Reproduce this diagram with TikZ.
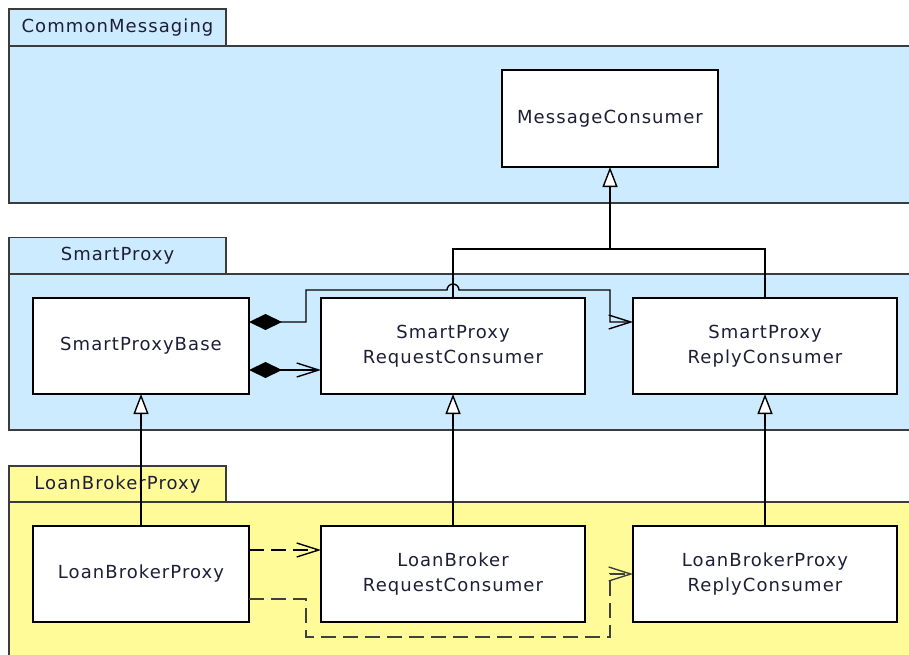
\documentclass[tikz,border=0pt]{standalone}
\usepackage{fontspec}
\setmainfont{DejaVu Sans}[LetterSpace=6]
\usetikzlibrary{arrows.meta}
\definecolor{pkgblue}{RGB}{204,235,255}
\definecolor{pkgyellow}{RGB}{255,251,153}
\definecolor{txtc}{RGB}{30,30,55}
\definecolor{pkgline}{RGB}{60,60,60}
\begin{document}
\begin{tikzpicture}[x=1pt,y=-1pt,
  lbl/.style={font=\fontsize{18}{25.5}\selectfont,text=txtc},
  cls/.style={lbl,draw=black,line width=1.6pt,fill=white,inner sep=0pt,outer sep=0pt,align=center},
  pkgtab/.style={lbl,draw=pkgline,line width=1.6pt,inner sep=0pt,outer sep=0pt,minimum width=217pt,minimum height=37pt},
  pkgbody/.style={draw=pkgline,line width=1.6pt},
  conn/.style={line width=1.4pt,black},
  gen/.style={conn,-{Triangle[open,length=20pt,width=15pt,fill=white]}},
  comp/.style={conn,{Diamond[length=33pt,width=16pt]}-{Straight Barb[length=22pt,width=14pt]}},
  dep/.style={conn,dash pattern=on 15pt off 7pt,-{Straight Barb[length=22pt,width=14pt]}}]
\useasboundingbox (0,0) rectangle (909,655);
\clip (0,0) rectangle (909,655);
% packages
\node[pkgtab,fill=pkgblue] (tabCM) at (117.5,27.5) {CommonMessaging};
\draw[pkgbody,fill=pkgblue] (9,46) rectangle (940,203);
\node[pkgtab,fill=pkgblue] (tabSP) at (117.5,256) {SmartProxy};
\draw[pkgbody,fill=pkgblue] (9,274) rectangle (940,430);
\node[pkgtab,fill=pkgyellow] (tabLB) at (117.5,484.5) {LoanBrokerProxy};
\draw[pkgbody,fill=pkgyellow] (9,502) rectangle (940,700);
% classes
\node[cls,minimum width=216pt,minimum height=97pt] (MC) at (610,118.5) {MessageConsumer};
\node[cls,minimum width=216pt,minimum height=96pt] (SPB) at (141,346) {SmartProxyBase};
\node[cls,minimum width=264pt,minimum height=96pt] (SPRC) at (453,346) {SmartProxy\\RequestConsumer};
\node[cls,minimum width=264pt,minimum height=96pt] (SPRepC) at (765,346) {SmartProxy\\ReplyConsumer};
\node[cls,minimum width=216pt,minimum height=96pt] (LBP) at (141,574) {LoanBrokerProxy};
\node[cls,minimum width=264pt,minimum height=96pt] (LBRC) at (453,574) {LoanBroker\\RequestConsumer};
\node[cls,minimum width=264pt,minimum height=96pt] (LBPRC) at (765,574) {LoanBrokerProxy\\ReplyConsumer};
% generalization to MessageConsumer
\coordinate (j) at (610,249);
\draw[conn] (SPRC.north) |- (j);
\draw[conn] (SPRepC.north) |- (j);
\draw[gen] (j) -- (MC.south);
% compositions
\draw[comp] ([yshift=24pt]SPB.east) -| (306,290) -- (447,290) arc[start angle=180,end angle=0,radius=6pt] -- (610,290) |- ([yshift=24pt]SPRepC.west);
\draw[comp] ([yshift=-24pt]SPB.east) -- ([yshift=-24pt]SPRC.west);
% generalizations
\draw[gen] (LBP.north) -- (SPB.south);
\draw[gen] (LBRC.north) -- (SPRC.south);
\draw[gen] (LBPRC.north) -- (SPRepC.south);
% dependencies
\draw[dep] ([yshift=24pt]LBP.east) -- ([yshift=24pt]LBRC.west);
\draw[dep,black!75] ([yshift=-25pt]LBP.east) -| (306,637) -| (610,574) -- (LBPRC.west);
\end{tikzpicture}
\end{document}
